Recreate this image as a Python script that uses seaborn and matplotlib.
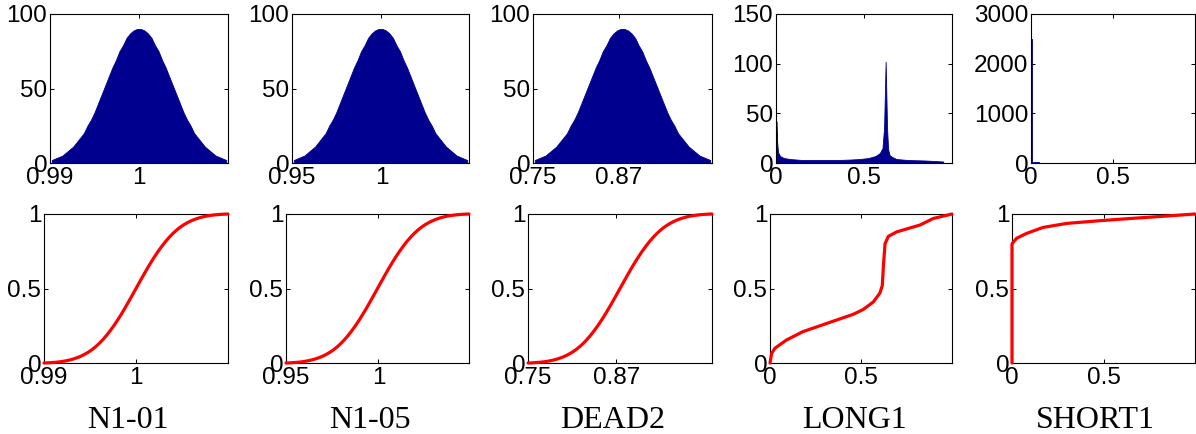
import numpy as np
import pandas as pd
import matplotlib
matplotlib.use('Agg')
import matplotlib.pyplot as plt
import seaborn as sns

sns.set_style('ticks')
plt.rcParams['font.family'] = ['Liberation Sans', 'DejaVu Sans']
plt.rcParams['text.color'] = 'black'

names = ['N1-01', 'N1-05', 'DEAD2', 'LONG1', 'SHORT1']

# histogram counts (same bell shape in the three noise panels)
bell_counts = [2, 3, 4, 5, 7, 9, 11, 14, 17, 20, 25, 29, 34, 40, 46, 52, 58, 64, 69, 75,
               79, 84, 87, 89, 90, 90, 89, 87, 84, 79, 75, 69, 64, 58, 52, 46, 40, 34, 29, 25,
               20, 17, 14, 11, 9, 7, 5, 4, 3, 2]
bell_ranges = [(0.99, 1.01), (0.95, 1.049), (0.75, 1.0)]

long1_edges = [0, 0.004, 0.008, 0.015, 0.03, 0.06, 0.1, 0.2, 0.3, 0.4, 0.45, 0.5, 0.55, 0.58,
               0.6, 0.61, 0.618, 0.628, 0.634, 0.64, 0.65, 0.67, 0.7, 0.8, 0.9, 1.0]
long1_counts = [42, 22, 11, 7, 5, 4, 3, 3, 3, 3.5, 4, 5, 7, 10, 15, 35, 102, 35, 14, 8,
                6, 4, 3, 2.5, 1.5]

short1_edges = [0, 0.006, 0.05, 0.1, 0.2, 0.4, 0.6, 0.8, 1.0]
short1_counts = [2500, 12, 9, 7, 6, 5, 4, 3]

long1_cdf_x = [0, 0.009, 0.027, 0.09, 0.18, 0.27, 0.367, 0.458, 0.513, 0.568, 0.604, 0.617,
               0.623, 0.632, 0.65, 0.696, 0.824, 0.897, 1.0]
long1_cdf_y = [0, 0.065, 0.099, 0.154, 0.21, 0.248, 0.289, 0.327, 0.36, 0.41, 0.47, 0.52,
               0.65, 0.80, 0.85, 0.88, 0.926, 0.97, 1.0]
short1_cdf_x = [0, 0, 0.025, 0.08, 0.17, 0.30, 0.48, 0.66, 0.84, 1.0]
short1_cdf_y = [0, 0.80, 0.837, 0.87, 0.91, 0.937, 0.955, 0.971, 0.986, 1.0]

top_xticks = [[0.99, 1], [0.95, 1], [0.75, 0.87], [0, 0.5], [0, 0.5]]
top_xlabels = [['0.99', '1'], ['0.95', '1'], ['0.75', '0.87'], ['0', '0.5'], ['0', '0.5']]
top_yticks = [[0, 50, 100], [0, 50, 100], [0, 50, 100], [0, 50, 100, 150], [0, 1000, 2000, 3000]]
xlims = [(0.99, 1.01), (0.95, 1.049), (0.75, 1.0), (0, 1.0), (0, 1.0)]

W, H = 1196, 434
fig = plt.figure(figsize=(W / 100, H / 100), dpi=100)

top_pos = [(50, 178), (292, 177), (533, 179), (776, 176), (1031, 164)]
bot_pos = [(44, 184), (286, 183), (528, 184), (770, 182), (1012, 183)]
label_x = [127.5, 370, 613, 854, 1095]

navy = '#00008F'


def style_axes(ax):
    ax.tick_params(direction='in', top=True, right=True, length=3, width=0.75,
                   labelsize=17.5, pad=2, colors='black', labelcolor='black')
    ax.tick_params(axis='x', pad=3)
    for s in ax.spines.values():
        s.set_linewidth(0.8)
        s.set_color('black')
    ax.set_xlabel('')
    ax.set_ylabel('')


for i in range(5):
    x0, w = top_pos[i]
    ax = fig.add_axes([x0 / W, 1 - 163 / H, w / W, 149 / H])
    if i < 3:
        edges = np.linspace(bell_ranges[i][0], bell_ranges[i][1], len(bell_counts) + 1)
        counts = bell_counts
        elem = 'poly'
    elif i == 3:
        edges = np.array(long1_edges)
        counts = long1_counts
        elem = 'poly'
    else:
        edges = np.array(short1_edges)
        counts = short1_counts
        elem = 'step'
    centers = (edges[:-1] + edges[1:]) / 2
    df = pd.DataFrame({'x': centers, 'n': counts})
    sns.histplot(data=df, x='x', weights='n', bins=edges.tolist(), element=elem, fill=True,
                 color=navy, alpha=1, linewidth=0.6, ax=ax)
    ax.set_xlim(*xlims[i])
    ax.set_ylim(top_yticks[i][0], top_yticks[i][-1])
    ax.set_xticks(top_xticks[i])
    ax.set_xticklabels(top_xlabels[i])
    ax.set_yticks(top_yticks[i])
    ax.set_yticklabels([str(v) for v in top_yticks[i]])
    style_axes(ax)

    x0, w = bot_pos[i]
    ax = fig.add_axes([x0 / W, 1 - 363 / H, w / W, 149 / H])
    if i < 3:
        cx = np.concatenate([[edges[0]], edges[1:]])
        cy = np.concatenate([[0], np.cumsum(counts) / np.sum(counts)])
    elif i == 3:
        cx, cy = long1_cdf_x, long1_cdf_y
    else:
        cx, cy = short1_cdf_x, short1_cdf_y
    sns.lineplot(x=cx, y=cy, estimator=None, sort=False, color='#FF0000', linewidth=2.3,
                 zorder=3, clip_on=False, ax=ax)
    ax.set_xlim(*xlims[i])
    ax.set_ylim(0, 1)
    ax.set_xticks(top_xticks[i])
    ax.set_xticklabels(top_xlabels[i])
    ax.set_yticks([0, 0.5, 1])
    ax.set_yticklabels(['0', '0.5', '1'])
    style_axes(ax)

    fig.text(label_x[i] / W, 1 - 428 / H, names[i], ha='center', va='baseline',
             fontsize=23, color='black', family=['Liberation Serif', 'DejaVu Serif'])

fig.savefig('out.png', dpi=100)
